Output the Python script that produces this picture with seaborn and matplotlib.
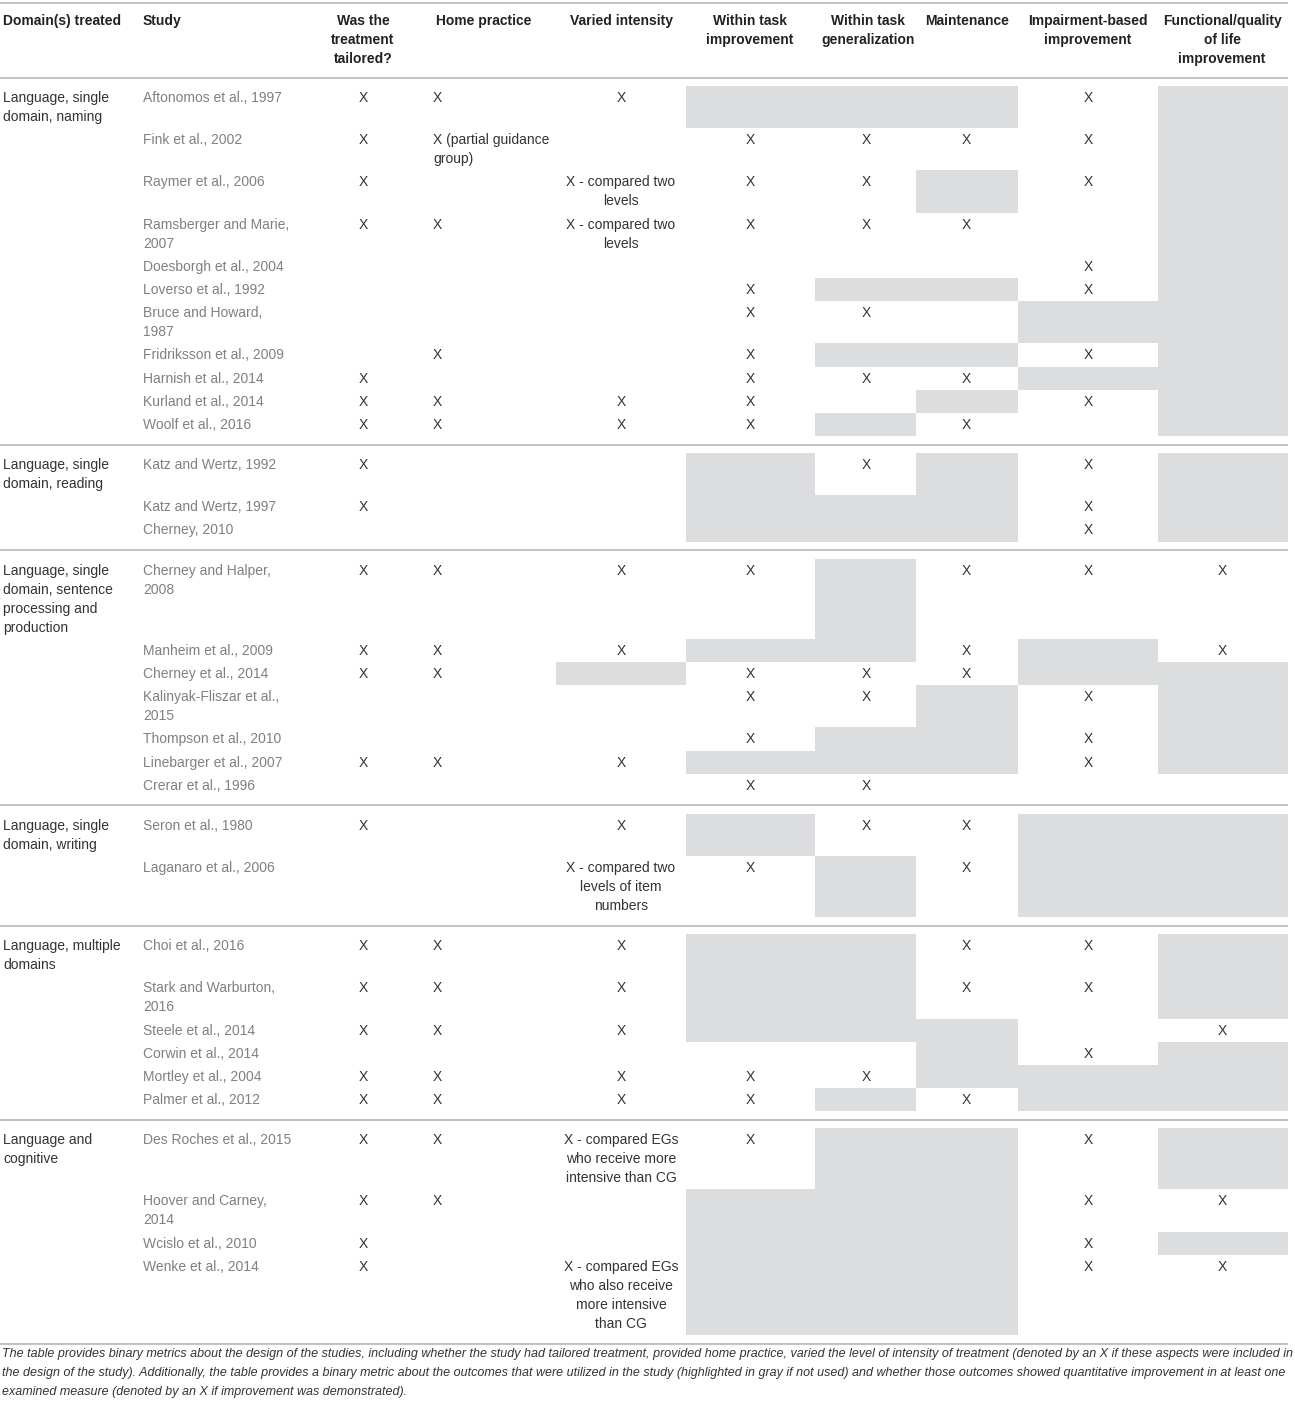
import numpy as np
import matplotlib
matplotlib.use("Agg")
import matplotlib.pyplot as plt
import seaborn as sns
from matplotlib.colors import ListedColormap

sns.set_theme(style="white")
plt.rcParams['font.family'] = ['Liberation Sans', 'DejaVu Sans']

# ---- table content ----
domains = [
    "Language, single\ndomain, naming",
    "Language, single\ndomain, reading",
    "Language, single\ndomain, sentence\nprocessing and\nproduction",
    "Language, single\ndomain, writing",
    "Language, multiple\ndomains",
    "Language and\ncognitive",
]
group_sizes = [11, 3, 7, 2, 6, 4]

studies = [
    "Aftonomos et al., 1997", "Fink et al., 2002", "Raymer et al., 2006",
    "Ramsberger and Marie,\n2007", "Doesborgh et al., 2004", "Loverso et al., 1992",
    "Bruce and Howard,\n1987", "Fridriksson et al., 2009", "Harnish et al., 2014",
    "Kurland et al., 2014", "Woolf et al., 2016",
    "Katz and Wertz, 1992", "Katz and Wertz, 1997", "Cherney, 2010",
    "Cherney and Halper,\n2008", "Manheim et al., 2009", "Cherney et al., 2014",
    "Kalinyak-Fliszar et al.,\n2015", "Thompson et al., 2010", "Linebarger et al., 2007",
    "Crerar et al., 1996",
    "Seron et al., 1980", "Laganaro et al., 2006",
    "Choi et al., 2016", "Stark and Warburton,\n2016", "Steele et al., 2014",
    "Corwin et al., 2014", "Mortley et al., 2004", "Palmer et al., 2012",
    "Des Roches et al., 2015", "Hoover and Carney,\n2014", "Wcislo et al., 2010",
    "Wenke et al., 2014",
]

# 'X' = present, '' = empty, 'g' = outcome not used (gray cell)
tailored = ['X', 'X', 'X', 'X', '', '', '', '', 'X', 'X', 'X',
            'X', 'X', '',
            'X', 'X', 'X', '', '', 'X', '',
            'X', '',
            'X', 'X', 'X', '', 'X', 'X',
            'X', 'X', 'X', 'X']
home = ['X', 'X (partial guidance\ngroup)', '', 'X', '', '', '', 'X', '', 'X', 'X',
        '', '', '',
        'X', 'X', 'X', '', '', 'X', '',
        '', '',
        'X', 'X', 'X', '', 'X', 'X',
        'X', 'X', '', '']
varied = ['X', '', 'X - compared two\nlevels', 'X - compared two\nlevels', '', '', '', '', '', 'X', 'X',
          '', '', '',
          'X', 'X', 'g', '', '', 'X', '',
          'X', 'X - compared two\nlevels of item\nnumbers',
          'X', 'X', 'X', '', 'X', 'X',
          'X - compared EGs\nwho receive more\nintensive than CG', '', '',
          'X - compared EGs\nwho also receive\nmore intensive\nthan CG']
within_improve = ['g', 'X', 'X', 'X', '', 'X', 'X', 'X', 'X', 'X', 'X',
                  'g', 'g', 'g',
                  'X', 'g', 'X', 'X', 'X', 'g', 'X',
                  'g', 'X',
                  'g', 'g', 'g', '', 'X', 'X',
                  'X', 'g', 'g', 'g']
within_general = ['g', 'X', 'X', 'X', '', 'g', 'X', 'g', 'X', '', 'g',
                  'X', 'g', 'g',
                  'g', 'g', 'X', 'X', 'g', 'g', 'X',
                  'X', 'g',
                  'g', 'g', 'g', '', 'X', 'g',
                  'g', 'g', 'g', 'g']
maintenance = ['g', 'X', 'g', 'X', '', 'g', '', 'g', 'X', 'g', 'X',
               'g', 'g', 'g',
               'X', 'X', 'X', 'g', 'g', 'g', '',
               'X', 'X',
               'X', 'X', 'g', 'g', 'g', 'X',
               'g', 'g', 'g', 'g']
impairment = ['X', 'X', 'X', '', 'X', 'X', 'g', 'X', 'g', 'X', '',
              'X', 'X', 'X',
              'X', 'g', 'g', 'X', 'X', 'X', '',
              'g', 'g',
              'X', 'X', '', 'X', 'g', 'g',
              'X', 'X', 'X', 'X']
functional = ['g', 'g', 'g', 'g', 'g', 'g', 'g', 'g', 'g', 'g', 'g',
              'g', 'g', 'g',
              'X', 'X', 'g', 'g', 'g', 'g', '',
              'g', 'g',
              'g', 'g', 'X', 'g', 'g', 'g',
              'g', 'X', 'g', 'X']

headers = ["Domain(s) treated", "Study", "Was the\ntreatment\ntailored?", "Home practice",
           "Varied intensity", "Within task\nimprovement", "Within task\ngeneralization",
           "Maintenance", "Impairment-based\nimprovement", "Functional/quality\nof life\nimprovement"]

caption = [
    "The table provides binary metrics about the design of the studies, including whether the study had tailored treatment, "
    "provided home practice, varied the level of intensity of treatment (denoted by an X if these aspects were included in",
    "the design of the study). Additionally, the table provides a binary metric about the outcomes that were utilized in the "
    "study (highlighted in gray if not used) and whether those outcomes showed quantitative improvement in at least one",
    "examined measure (denoted by an X if improvement was demonstrated).",
]

# ---- layout (pixels) ----
W, H = 1295, 1404
UNIT = 2.11          # px per row unit
HEAD_Y = 77.5        # header bottom rule
TABLE_R = 1288
GRAY = '#dcdddf'
RULE = '#c4c4c4'
grid_cols = [varied, within_improve, within_general, maintenance, impairment, functional]
col_w = [130, 129, 101, 102, 140, 130]
heat_x0 = 556
header_x = [3, 143, 363, 436, 621, 750, 868, 967, 1088, 1222]
header_ha = ['left', 'left', 'center', 'left', 'center', 'center', 'center', 'center', 'center', 'center']
cell_x = [363, 433, 621, 750, 866, 966, 1088, 1222]
cell_cols = [tailored, home] + grid_cols

# build the row-unit grid for the gray cells
blank = [np.nan] * len(grid_cols)
cells = [blank] * 4
y = 4
row_tops, sep_units, group_tops = [], [], []
i = 0
for gi, n in enumerate(group_sizes):
    if gi > 0:
        sep_units.append(y + 4)
        cells += [blank] * 8
        y += 8
    group_tops.append(y)
    for k in range(n):
        texts = [studies[i]] + [c[i] for c in cell_cols]
        if k == 0:
            texts.append(domains[gi])
        nl = max(t.count('\n') + 1 for t in texts)
        h = 11 + 9 * (nl - 1)
        row_tops.append(y)
        vals = [1.0 if c[i] == 'g' else np.nan for c in grid_cols]
        cells += [vals] * h
        y += h
        i += 1
cells += [blank] * 4
y += 4
mat = np.repeat(np.array(cells, dtype=float), col_w, axis=1)

fig = plt.figure(figsize=(W / 100, H / 100), dpi=100)
fig.patch.set_facecolor('white')

ax_heat = fig.add_axes([heat_x0 / W, 1 - (HEAD_Y + y * UNIT) / H, sum(col_w) / W, y * UNIT / H])
sns.heatmap(mat, ax=ax_heat, cmap=ListedColormap([GRAY]), vmin=0, vmax=1, cbar=False,
            xticklabels=False, yticklabels=False, rasterized=True)
ax_heat.axis('off')

ax = fig.add_axes([0, 0, 1, 1])
ax.set_xlim(0, W)
ax.set_ylim(H, 0)
ax.axis('off')
ax.patch.set_alpha(0)

FS = 10
LINE = 9 * UNIT


def put(x, top, text, ha, color, weight='normal'):
    for j, line in enumerate(text.split('\n')):
        ax.text(x, top + 16 + j * LINE, line, ha=ha, va='baseline', fontsize=FS,
                color=color, fontweight=weight)


# header
for txt, hx, ha in zip(headers, header_x, header_ha):
    put(hx, 9, txt, ha, '#222222', 'bold')

# rules
for yy in [3, HEAD_Y] + [HEAD_Y + s * UNIT for s in sep_units] + [HEAD_Y + y * UNIT]:
    ax.plot([0, TABLE_R], [yy, yy], color=RULE, lw=1.5, solid_capstyle='butt')

# body
for gi, gt in enumerate(group_tops):
    put(3, HEAD_Y + gt * UNIT, domains[gi], 'left', '#333333')
for r, rt in enumerate(row_tops):
    top = HEAD_Y + rt * UNIT
    put(143, top, studies[r], 'left', '#808080')
    for ci, (cx, col) in enumerate(zip(cell_x, cell_cols)):
        v = col[r]
        if v and v != 'g':
            put(cx, top, v, 'left' if ci == 1 else 'center', '#333333')

# caption, stretched to the table width like justified text
renderer = fig.canvas.get_renderer()
cap_fs = None
for j, line in enumerate(caption):
    t = ax.text(2, 1357 + j * 19, line, ha='left', va='baseline', fontsize=8.2,
                style='italic', color='#333333')
    if j < 2:
        for _ in range(3):
            w = t.get_window_extent(renderer).width
            t.set_fontsize(t.get_fontsize() * (TABLE_R - 3) / w)
        if cap_fs is None:
            cap_fs = t.get_fontsize()
    else:
        t.set_fontsize(cap_fs)

fig.savefig("out.png", dpi=100, facecolor='white')
